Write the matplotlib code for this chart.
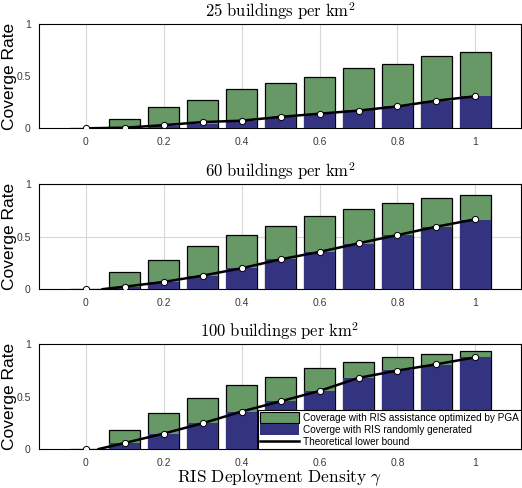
import matplotlib
matplotlib.use("Agg")
import matplotlib.pyplot as plt
from matplotlib.patches import Patch
from matplotlib.lines import Line2D
import numpy as np

plt.rcParams['mathtext.fontset'] = 'cm'
plt.rcParams['font.family'] = ['Liberation Sans', 'DejaVu Sans']

gamma = [0.0, 0.1, 0.2, 0.3, 0.4, 0.5, 0.6, 0.7, 0.8, 0.9, 1.0]
titles = [r'$25\ \mathrm{buildings\ per\ km}^2$',
          r'$60\ \mathrm{buildings\ per\ km}^2$',
          r'$100\ \mathrm{buildings\ per\ km}^2$']

pga_25 = [0.0, 0.086, 0.20, 0.27, 0.38, 0.43, 0.49, 0.575, 0.62, 0.69, 0.73]
rand_25 = [0.0, 0.005, 0.025, 0.045, 0.067, 0.11, 0.14, 0.175, 0.21, 0.26, 0.307]
bound_25 = [0.0, 0.006, 0.03, 0.06, 0.073, 0.11, 0.14, 0.17, 0.21, 0.265, 0.307]

pga_60 = [0.0, 0.16, 0.275, 0.41, 0.515, 0.60, 0.70, 0.76, 0.82, 0.87, 0.90]
rand_60 = [0.0, 0.025, 0.073, 0.127, 0.205, 0.285, 0.355, 0.427, 0.515, 0.59, 0.655]
bound_60 = [0.0, 0.025, 0.07, 0.13, 0.20, 0.285, 0.355, 0.437, 0.515, 0.595, 0.665]

pga_100 = [0.0, 0.18, 0.343, 0.49, 0.613, 0.69, 0.775, 0.83, 0.876, 0.905, 0.94]
rand_100 = [0.0, 0.063, 0.15, 0.248, 0.36, 0.457, 0.56, 0.68, 0.755, 0.806, 0.876]
bound_100 = [0.0, 0.06, 0.15, 0.248, 0.36, 0.457, 0.556, 0.68, 0.75, 0.81, 0.876]

# gamma at which the theoretical bound leaves zero
bound_start = [0.0, 0.04, 0.03]

pga_all = [pga_25, pga_60, pga_100]
rand_all = [rand_25, rand_60, rand_100]
bound_all = [bound_25, bound_60, bound_100]

xticks = [0, 0.2, 0.4, 0.6, 0.8, 1.0]
xticklabels = ['0', '0.2', '0.4', '0.6', '0.8', '1']
yticks = [0, 0.5, 1]
yticklabels = ['0', '0.5', '1']

legend_labels = ['Coverage with RIS assistance optimized by PGA',
                 'Coverge with RIS randomly generated',
                 'Theoretical lower bound']

green = '#669966'
blue = '#333380'

fig = plt.figure(figsize=(5.22, 4.88), dpi=100)
W, H = 522, 488
rects = [(24, 128.3), (184, 289.3), (344.3, 449.3)]
for i, (top, bot) in enumerate(rects):
    ax = fig.add_axes([39 / W, 1 - bot / H, (521 - 39) / W, (bot - top) / H])
    ax.bar(gamma, pga_all[i], width=0.08, color=green, edgecolor='black', linewidth=0.9, zorder=2)
    ax.bar(gamma, rand_all[i], width=0.08, color=blue, edgecolor='none', linewidth=0, zorder=3)
    lx = [bound_start[i]] + gamma[1:]
    ly = [0.0] + bound_all[i][1:]
    ax.plot(lx, ly, color='black', linewidth=1.8, zorder=4, solid_capstyle='butt')
    ax.plot(gamma, bound_all[i], linestyle='none', marker='o', markersize=4.5,
            markerfacecolor='white', markeredgecolor='black', markeredgewidth=0.7, zorder=5)
    ax.set_xlim(-0.12, 1.117)
    ax.set_ylim(0, 1)
    ax.set_xticks(xticks)
    ax.set_xticklabels(xticklabels)
    ax.set_yticks(yticks)
    ax.set_yticklabels(yticklabels)
    ax.tick_params(axis='both', length=0, labelsize=7.5, colors='#3a3a3a', pad=6)
    ax.grid(axis='x', color='#d8d8d8', linewidth=0.8, zorder=0)
    if i == 1:
        ax.grid(axis='y', color='#d8d8d8', linewidth=0.8, zorder=0)
    ax.set_axisbelow(True)
    for s in ax.spines.values():
        s.set_linewidth(0.8)
        s.set_color('black')
    ax.set_title(titles[i], fontsize=12, pad=5)
    ax.set_ylabel('Coverge Rate', fontsize=12.5)
    ax.yaxis.set_label_coords(-0.045, 0.5)
    if i == 2:
        ax.set_xlabel(r'$\mathrm{RIS\ Deployment\ Density}\ \gamma$', fontsize=12.5, labelpad=-0.5)
        handles = [Patch(facecolor=green, edgecolor='black', linewidth=0.8),
                   Patch(facecolor=blue, edgecolor='none'),
                   Line2D([0], [0], color='black', linewidth=1.8)]
        leg = ax.legend(handles, legend_labels, loc='lower right', fontsize=7.2,
                        frameon=True, fancybox=False, edgecolor='black', framealpha=1,
                        borderaxespad=0.0, handlelength=3.9, handleheight=1.2,
                        handletextpad=0.35, labelspacing=0.15, borderpad=0.25)
        leg.get_frame().set_linewidth(0.8)
        leg.set_zorder(10)

fig.savefig('out.png', dpi=100)
